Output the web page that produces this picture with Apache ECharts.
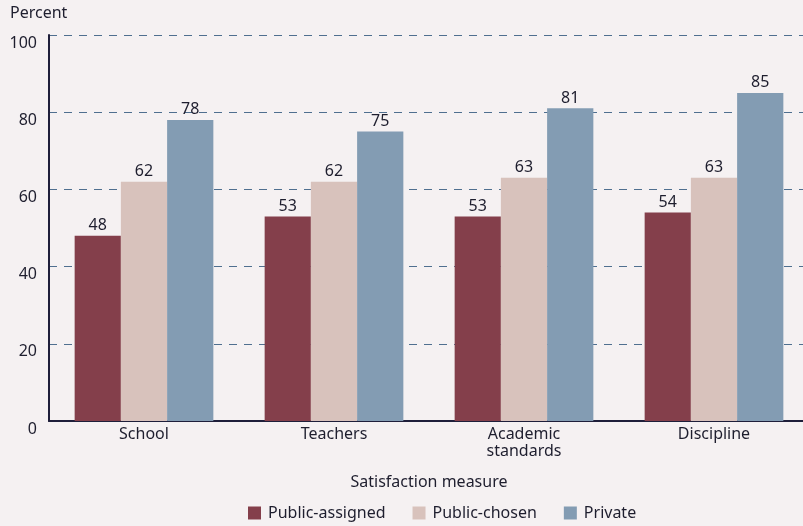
<!DOCTYPE html>
<html><head><meta charset="utf-8">
<script src="https://cdn.jsdelivr.net/npm/echarts@6/dist/echarts.min.js"></script>
<style>html,body{margin:0;padding:0;background:#f5f1f2;overflow:hidden;width:803px;height:526px;}#c{width:812px;height:526px;}</style>
</head><body><div id="c"></div>
<script>
const categories = ['School', 'Teachers', 'Academic\nstandards', 'Discipline'];
const publicAssigned = [48, 53, 53, 54];
const publicChosen = [62, 62, 63, 63];
const privateSchool = [78, 75, 81, 85];
const yTicks = [0, 20, 40, 60, 80, 100];

const FONT = '"Noto Sans", "Open Sans", sans-serif';
const chart = echarts.init(document.getElementById('c'));
const lbl = {show: true, position: 'top', color: '#1e1e2e', fontSize: 16, fontFamily: FONT, distance: 2};
chart.setOption({
  backgroundColor: '#f5f1f2',
  animation: false,
  textStyle: {fontFamily: FONT},
  graphic: [{type: 'text', left: 10, top: 5, style: {text: 'Percent', fontSize: 16, fontFamily: FONT, fill: '#1e1e2e'}}],
  legend: {
    bottom: 0, left: 243, itemWidth: 13, itemHeight: 13, itemGap: 27,
    icon: 'rect',
    textStyle: {fontSize: 16, fontFamily: FONT, color: '#1e1e2e', padding: [0, 0, 0, 2]},
    data: ['Public-assigned', 'Public-chosen', 'Private']
  },
  grid: {left: 49, right: 3, top: 35, bottom: 105, containLabel: false},
  xAxis: {
    type: 'category', data: categories,
    axisLine: {lineStyle: {color: '#1e1e3a', width: 2}},
    axisTick: {show: false},
    axisLabel: {fontSize: 16, color: '#1e1e2e', fontFamily: FONT, margin: 5, lineHeight: 17},
    name: 'Satisfaction measure', nameLocation: 'middle', nameGap: 53,
    nameTextStyle: {fontSize: 16, color: '#1e1e2e', fontFamily: FONT}
  },
  yAxis: {
    type: 'value', min: 0, max: 100, interval: 20,
    axisLine: {show: true, lineStyle: {color: '#1e1e3a', width: 2}},
    axisTick: {show: false},
    axisLabel: {fontSize: 16, color: '#1e1e2e', fontFamily: FONT, margin: 12, verticalAlign: 'top',
      formatter: v => yTicks.includes(v) ? String(v) : ''},
    splitLine: {show: true, lineStyle: {color: '#4f6f8f', type: [8, 7], width: 1}}
  },
  series: [
    {name: 'Public-assigned', type: 'bar', data: publicAssigned, barGap: '0%', barCategoryGap: '27%', itemStyle: {color: '#843f4b'}, label: lbl},
    {name: 'Public-chosen', type: 'bar', data: publicChosen, itemStyle: {color: '#d8c2bc'}, label: lbl},
    {name: 'Private', type: 'bar', data: privateSchool, itemStyle: {color: '#839cb3'}, label: lbl}
  ]
});
</script></body></html>
